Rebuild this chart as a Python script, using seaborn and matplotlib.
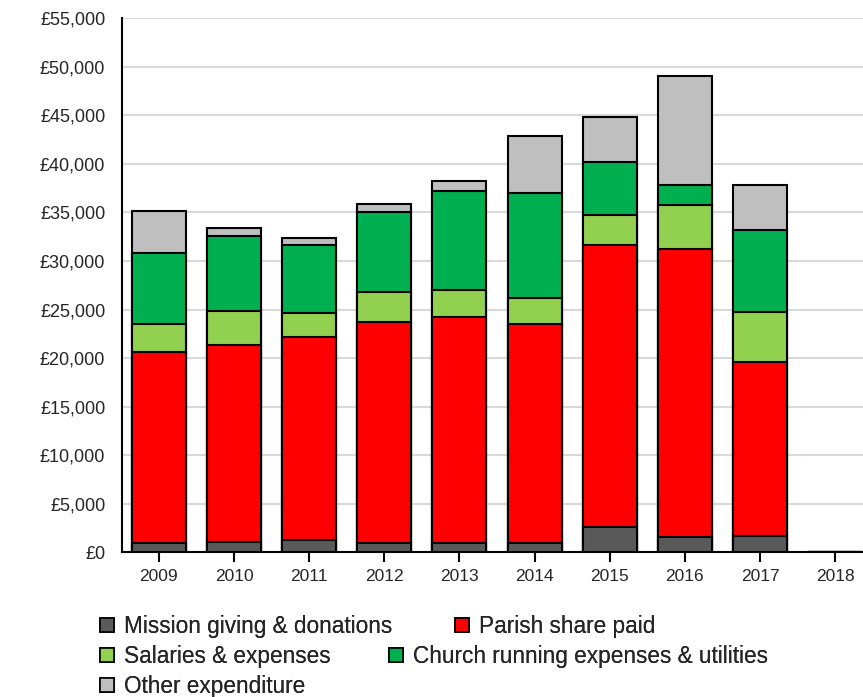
import matplotlib
matplotlib.use("Agg")
import matplotlib.pyplot as plt
import seaborn as sns
import pandas as pd
import numpy as np
from matplotlib.ticker import FuncFormatter
from matplotlib.patches import Patch

years = ["2009", "2010", "2011", "2012", "2013", "2014", "2015", "2016", "2017", "2018"]
mission = [930, 1090, 1300, 930, 930, 930, 2640, 1540, 1710, 0]
parish = [19730, 20230, 20910, 22820, 23270, 22580, 29010, 29670, 17860, 0]
salaries = [2850, 3500, 2410, 3060, 2850, 2650, 3090, 4590, 5210, 0]
church = [7290, 7760, 7030, 8210, 10160, 10810, 5490, 2030, 8450, 0]
other = [4380, 850, 690, 850, 1060, 5910, 4640, 11200, 4600, 0]

series_names = ["Mission giving & donations", "Parish share paid", "Salaries & expenses",
                "Church running expenses & utilities", "Other expenditure"]
series_vals = [mission, parish, salaries, church, other]
colors = ["#595959", "#ff0000", "#92d050", "#00b050", "#bfbfbf"]

sns.set_style("white")
plt.rcParams['font.family'] = ['Liberation Sans', 'DejaVu Sans']

fig = plt.figure(figsize=(8.63, 6.97), dpi=100)
ax = fig.add_axes([122/863, 1-552.3/697, 1-122/863, (552.3-18.3)/697])

cum = np.cumsum(np.array(series_vals), axis=0)
for i in range(len(series_names)-1, -1, -1):
    df = pd.DataFrame({"year": years, "value": cum[i]})
    sns.barplot(data=df, x="year", y="value", color=colors[i], saturation=1,
                edgecolor="black", linewidth=1.5, width=0.72, errorbar=None,
                ax=ax, zorder=3)

ax.set_ylim(0, 55000)
ax.set_xlim(-0.49, 9.37)
ax.set_yticks(np.arange(0, 55001, 5000))
ax.yaxis.set_major_formatter(FuncFormatter(lambda v, p: f"£{int(v):,}"))
ax.yaxis.grid(True, color="#d9d9d9", linewidth=1.5, zorder=0)
ax.set_axisbelow(True)
ax.set_xlabel("")
ax.set_ylabel("")
for s in ["top", "right"]:
    ax.spines[s].set_visible(False)
for s in ["left", "bottom"]:
    ax.spines[s].set_color("black")
    ax.spines[s].set_linewidth(1.5)
ax.tick_params(axis="y", length=9, width=1.5, color="black", labelsize=13, pad=3)
ax.tick_params(axis="x", length=7, width=1.5, color="black", labelsize=12.5, pad=5, bottom=True)

# legend entries placed as flow layout
positions = [(100, 615), (455, 615), (100, 645), (389, 645), (100, 675)]
for name, col, (px, py) in zip(series_names, colors, positions):
    h = Patch(facecolor=col, edgecolor="black", linewidth=1.2)
    leg = fig.legend(handles=[h], labels=[name], loc="upper left",
                     bbox_to_anchor=(px/863, 1-py/697), frameon=False,
                     fontsize=16.3, handlelength=0.62, handleheight=0.62,
                     handletextpad=0.45, borderpad=0, borderaxespad=0)
    fig.add_artist(leg)

fig.savefig("out.png", dpi=100)
